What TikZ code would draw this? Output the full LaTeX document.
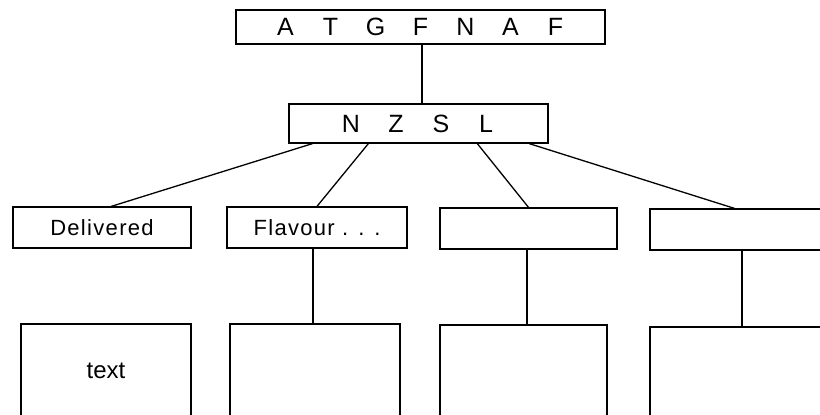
\documentclass[tikz,border=0pt]{standalone}
\usepackage{fontspec}
\setmainfont{Liberation Sans}
\newfontfamily\spacedfont[LetterSpace=6]{Liberation Sans}
\newcommand{\lt}[1]{\makebox[45pt]{#1}}
\begin{document}
\begin{tikzpicture}[x=1pt,y=-1pt,
  box/.style={draw,line width=1.3pt,inner sep=0pt,anchor=center},
  conn/.style={line width=1.3pt},
  caps/.style={font=\fontsize{25}{28}\selectfont},
  lbl/.style={font=\spacedfont\fontsize{22}{26}\selectfont}]
\useasboundingbox (0,0) rectangle (820,415);
\clip (0,0) rectangle (820,415);
\fill[white] (0,0) rectangle (820,415);
% top and middle
\node[box,caps,minimum width=369pt,minimum height=34pt] (top) at (420.5,27)
  {\lt{A}\lt{T}\lt{G}\lt{F}\lt{N}\lt{A}\lt{F}};
\node[box,caps,minimum width=259pt,minimum height=39pt] (mid) at (418.5,123.5)
  {\lt{N}\lt{Z}\lt{S}\lt{L}};
% row 3
\node[box,lbl,minimum width=178pt,minimum height=41pt] (d1) at (102,227.5) {Delivered};
\node[box,lbl,minimum width=180pt,minimum height=41pt] (d2) at (317,227.5) {Flavour . . .};
\node[box,minimum width=177pt,minimum height=41pt] (d3) at (528.5,228.5) {};
\node[box,minimum width=180pt,minimum height=41pt] (d4) at (740,229.5) {};
% row 4
\node[box,font=\fontsize{24}{28}\selectfont,minimum width=170pt,minimum height=94pt] (b1) at (106,371) {text};
\node[box,minimum width=170pt,minimum height=94pt] (b2) at (315,371) {};
\node[box,minimum width=167pt,minimum height=94pt] (b3) at (523.5,372) {};
\node[box,minimum width=180pt,minimum height=94pt] (b4) at (740,374) {};
% connectors
\draw[conn] ([xshift=1.5pt]top.south) -- ([xshift=1.5pt]top.south |- mid.north);
\draw[conn] ([xshift=24pt]mid.south west) -- ([xshift=99pt]d1.north west);
\draw[conn] ([xshift=80pt]mid.south west) -- (d2.north);
\draw[conn] ([xshift=189pt]mid.south west) -- (d3.north);
\draw[conn] ([xshift=241pt]mid.south west) -- ([xshift=85pt]d4.north west);
\draw[conn] ([xshift=-4pt]d2.south) -- ([xshift=-2pt]b2.north);
\draw[conn] ([xshift=-1.5pt]d3.south) -- ([xshift=3.5pt]b3.north);
\draw[conn] ([xshift=2pt]d4.south) -- ([xshift=2pt]b4.north);
\end{tikzpicture}
\end{document}
